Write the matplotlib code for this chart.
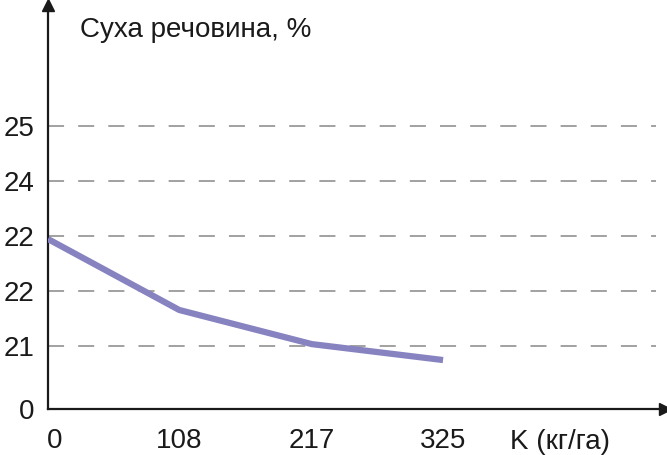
import matplotlib.pyplot as plt
from matplotlib.ticker import FixedLocator
from matplotlib.transforms import ScaledTranslation

# data
potassium = [0, 108, 217, 325]              # K, кг/га
dry_matter = [22.94, 21.65, 21.03, 20.74]   # Суха речовина, %
grid_values = [21, 22, 23, 24, 25]
grid_labels = ['21', '22', '22', '24', '25']  # labels as printed
x_labels = ['0', '108', '217', '325']

# the y axis is broken between 0 and 21: 21 sits 1.15 units above the bottom
offset = 21 - 1.15
def ypos(v):
    return v - offset

plt.rcParams['font.family'] = ['Liberation Sans', 'DejaVu Sans']

fig = plt.figure(figsize=(6.67, 4.55), dpi=100)
ax = fig.add_axes([48 / 667, 46 / 455, (665 - 48) / 667, (409 - 5) / 455])

ax.set_xlim(0, 507.6)
ax.set_ylim(0, 7.345)

# dashed grid
for v in grid_values:
    ax.plot([0, 500], [ypos(v), ypos(v)], color='#9a9a9a', lw=1.3,
            dashes=(8.9, 7.8), zorder=1)

ax.plot(potassium, [ypos(v) for v in dry_matter], color='#8783c0', lw=4.5,
        solid_capstyle='butt', solid_joinstyle='round', zorder=3)

for s in ['top', 'right']:
    ax.spines[s].set_visible(False)
for s in ['left', 'bottom']:
    ax.spines[s].set_linewidth(1.6)
    ax.spines[s].set_color('#1a1a1a')

# arrow heads
ax.plot(1, 0, '>', color='#1a1a1a', ms=8, transform=ax.transAxes, clip_on=False)
ax.plot(0, 1, '^', color='#1a1a1a', ms=8, transform=ax.transAxes, clip_on=False)

ax.yaxis.set_major_locator(FixedLocator([0] + [ypos(v) for v in grid_values]))
ax.set_yticklabels(['0'] + grid_labels)
ax.xaxis.set_major_locator(FixedLocator(potassium))
ax.set_xticklabels(x_labels)
ax.tick_params(length=0, labelsize=20, colors='#1a1a1a')
ax.tick_params(axis='y', pad=10)
ax.tick_params(axis='x', pad=14)

# the "0" below the origin is printed a little to the right
zero_lab = ax.xaxis.get_major_ticks()[0].label1
zero_lab.set_transform(zero_lab.get_transform() + ScaledTranslation(0.07, 0, fig.dpi_scale_trans))

ax.text(26, 6.89, 'Суха речовина, %', fontsize=20, color='#1a1a1a',
        va='center', ha='left')
ax.text(380, -0.05, 'K (кг/га)', fontsize=20, color='#1a1a1a',
        va='top', ha='left', transform=ax.get_xaxis_transform())

fig.savefig('out.png', dpi=100)
